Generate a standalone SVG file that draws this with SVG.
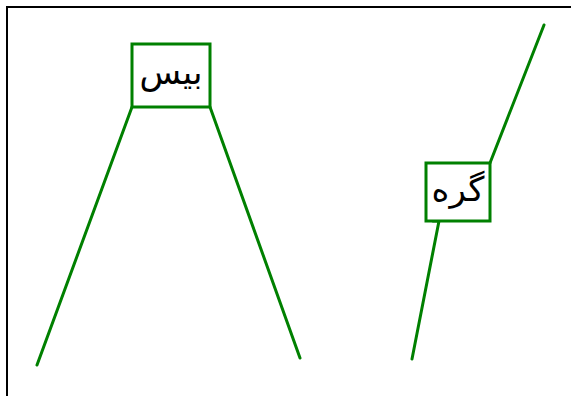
<svg xmlns="http://www.w3.org/2000/svg" width="571" height="396" viewBox="0 0 571 396">
<style>
.box{fill:#fff;stroke:#008000;stroke-width:3}
.con{stroke:#008000;stroke-width:3;fill:none;stroke-linecap:round}
.lbl{font-family:"Noto Sans","DejaVu Sans",sans-serif;font-size:34px;fill:#000;text-anchor:middle}
</style>
<rect x="0" y="0" width="571" height="396" fill="#fff"/>
<rect x="7" y="7" width="600" height="420" fill="none" stroke="#000" stroke-width="2"/>
<g id="connectors">
<line class="con" x1="132" y1="107" x2="37" y2="365"/>
<line class="con" x1="210" y1="107" x2="300" y2="358"/>
<line class="con" x1="490" y1="163" x2="544" y2="25"/>
<path class="con" d="M433,221 L439,221 L412,359"/>
</g>
<g id="node-bis">
<rect class="box" x="132" y="44" width="78" height="63"/>
<text class="lbl" x="171" y="84" direction="rtl">بیس</text>
</g>
<g id="node-gereh">
<rect class="box" x="426" y="163" width="64" height="58"/>
<text class="lbl" x="458" y="201" direction="rtl">گره</text>
</g>
</svg>
